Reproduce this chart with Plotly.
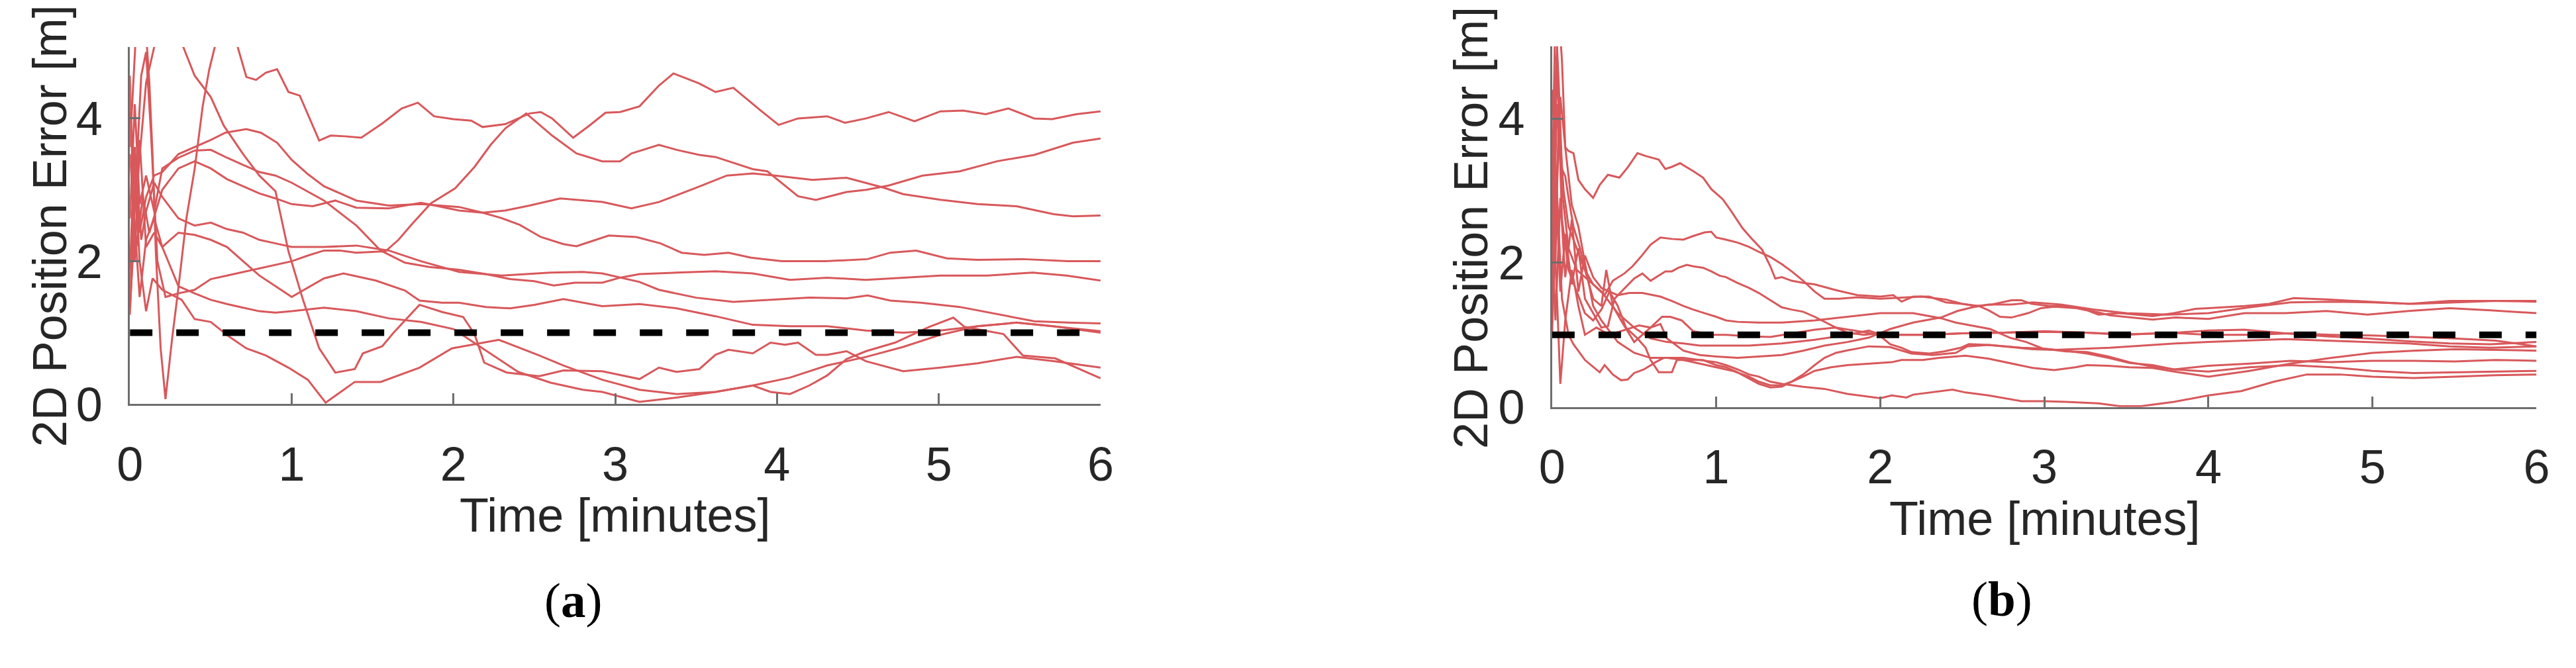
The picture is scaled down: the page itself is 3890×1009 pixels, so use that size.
import plotly.graph_objects as go

# Left chart (a): ten runs, (time [min], 2D error [m])
a1 = [(0, 3.6), (0.04, 5.3), (0.1, 5.2), (0.12, 4.51), (0.14, 3.49), (0.16, 2.14), (0.19, 0.78), (0.22, 0.07),
      (0.26, 0.9), (0.30, 1.63), (0.35, 2.61), (0.40, 3.29), (0.45, 4.17), (0.49, 4.68), (0.53, 5.05), (0.6, 5.4),
      (0.66, 5.05), (0.72, 4.58), (0.78, 4.54), (0.84, 4.64), (0.91, 4.69), (0.98, 4.37), (1.05, 4.32), (1.17, 3.69),
      (1.24, 3.76), (1.33, 3.75), (1.43, 3.73), (1.56, 3.93), (1.68, 4.14), (1.78, 4.22), (1.88, 4.03), (2.0, 3.99),
      (2.11, 3.97), (2.18, 3.88), (2.32, 3.92), (2.47, 4.07), (2.54, 4.09), (2.61, 4.0), (2.74, 3.73), (2.84, 3.90),
      (2.94, 4.08), (3.03, 4.09), (3.15, 4.17), (3.27, 4.46), (3.36, 4.63), (3.52, 4.49), (3.62, 4.37), (3.73, 4.43),
      (3.90, 4.11), (4.01, 3.91), (4.13, 4.0), (4.31, 4.03), (4.42, 3.94), (4.55, 4.0), (4.69, 4.09), (4.85, 3.96),
      (5.01, 4.10), (5.15, 4.11), (5.29, 4.06), (5.43, 4.14), (5.59, 4.0), (5.70, 3.99), (5.85, 4.06), (6.0, 4.10)]
a2 = [(0, 1.25), (0.03, 2.8), (0.07, 4.6), (0.1, 4.93), (0.13, 3.8), (0.17, 2.0), (0.22, 1.5), (0.3, 1.55),
      (0.4, 1.6), (0.5, 1.75), (0.6, 1.8), (0.7, 1.85), (0.8, 1.9), (0.9, 1.95), (1.0, 2.0), (1.1, 2.08), (1.2, 2.15),
      (1.3, 2.15), (1.4, 2.12), (1.5, 2.13), (1.58, 2.14), (1.66, 2.3), (1.74, 2.51), (1.86, 2.81), (2.01, 3.02),
      (2.13, 3.32), (2.23, 3.63), (2.32, 3.86), (2.45, 4.07), (2.61, 3.76), (2.76, 3.51), (2.92, 3.40), (3.03, 3.40),
      (3.10, 3.51), (3.27, 3.63), (3.38, 3.56), (3.52, 3.49), (3.62, 3.46), (3.85, 3.29), (3.94, 3.26), (4.03, 3.09),
      (4.13, 2.91), (4.24, 2.86), (4.43, 2.97), (4.55, 3.0), (4.69, 3.06), (4.90, 3.2), (5.13, 3.26), (5.36, 3.4),
      (5.59, 3.49), (5.83, 3.66), (6.0, 3.72)]
a3 = [(0, 4.1), (0.03, 3.2), (0.06, 2.4), (0.1, 2.9), (0.15, 3.2), (0.2, 3.25), (0.3, 3.5), (0.4, 3.6), (0.5, 3.7),
      (0.59, 3.8), (0.72, 3.85), (0.81, 3.8), (0.91, 3.66), (1.0, 3.42), (1.1, 3.22), (1.2, 3.05), (1.4, 2.85),
      (1.6, 2.78), (1.8, 2.8), (2.035, 2.76), (2.18, 2.68), (2.32, 2.71), (2.47, 2.78), (2.66, 2.88), (2.8, 2.85),
      (2.92, 2.83), (3.10, 2.74), (3.27, 2.83), (3.5, 3.03), (3.69, 3.2), (3.85, 3.23), (3.99, 3.2), (4.22, 3.14),
      (4.43, 3.17), (4.66, 3.03), (4.78, 2.94), (5.01, 2.86), (5.24, 2.8), (5.48, 2.77), (5.71, 2.66), (5.83, 2.63),
      (6.0, 2.64)]
a4 = [(0, 3.5), (0.04, 2.2), (0.08, 2.9), (0.12, 2.4), (0.2, 3.0), (0.3, 3.3), (0.4, 3.4), (0.5, 3.3), (0.6, 3.15),
      (0.7, 3.05), (0.8, 2.95), (0.9, 2.88), (1.0, 2.8), (1.13, 2.77), (1.27, 2.85), (1.4, 2.75), (1.6, 2.74),
      (1.8, 2.82), (2.035, 2.71), (2.18, 2.68), (2.29, 2.61), (2.41, 2.51), (2.54, 2.34), (2.68, 2.24), (2.76, 2.21),
      (2.84, 2.27), (2.96, 2.36), (3.13, 2.34), (3.28, 2.25), (3.41, 2.12), (3.55, 2.09), (3.70, 2.12), (3.84, 2.05),
      (4.03, 2.0), (4.3, 2.0), (4.56, 2.03), (4.70, 2.12), (4.86, 2.15), (5.05, 2.04), (5.24, 2.02), (5.52, 2.03),
      (5.8, 2.0), (6.0, 2.0)]
a5 = [(0, 2.6), (0.03, 4.2), (0.06, 2.8), (0.1, 3.2), (0.15, 2.7), (0.2, 3.3), (0.3, 3.45), (0.4, 3.55), (0.5, 3.56),
      (0.6, 3.45), (0.7, 3.35), (0.8, 3.25), (0.9, 3.2), (1.0, 3.1), (1.2, 2.85), (1.4, 2.5), (1.55, 2.15), (1.7, 1.98),
      (1.85, 1.92), (2.035, 1.88), (2.2, 1.82), (2.35, 1.75), (2.5, 1.72), (2.62, 1.66), (2.75, 1.7), (2.92, 1.7),
      (3.03, 1.77), (3.15, 1.82), (3.38, 1.84), (3.62, 1.86), (3.85, 1.83), (4.08, 1.74), (4.31, 1.77), (4.55, 1.74),
      (4.78, 1.77), (5.01, 1.8), (5.3, 1.8), (5.58, 1.84), (5.79, 1.8), (6.0, 1.73)]
a6 = [(0, 1.9), (0.03, 3.6), (0.07, 2.3), (0.1, 2.7), (0.15, 3.1), (0.2, 2.9), (0.3, 2.6), (0.4, 2.5), (0.5, 2.54),
      (0.6, 2.45), (0.7, 2.4), (0.8, 2.3), (0.9, 2.25), (1.0, 2.2), (1.2, 2.2), (1.4, 2.22), (1.6, 2.15), (1.8, 2.0),
      (2.035, 1.85), (2.3, 1.8), (2.6, 1.84), (2.8, 1.85), (2.92, 1.83), (3.03, 1.77), (3.15, 1.71), (3.27, 1.6),
      (3.5, 1.49), (3.73, 1.43), (3.96, 1.46), (4.2, 1.49), (4.43, 1.48), (4.56, 1.52), (4.7, 1.45), (4.89, 1.42),
      (5.13, 1.36), (5.36, 1.26), (5.59, 1.16), (5.8, 1.14), (6.0, 1.13)]
a7 = [(0, 4.6), (0.03, 2.0), (0.06, 3.7), (0.1, 2.2), (0.15, 2.4), (0.2, 2.2), (0.3, 2.4), (0.4, 2.37), (0.5, 2.3),
      (0.6, 2.2), (0.7, 2.0), (0.8, 1.8), (0.9, 1.65), (1.0, 1.5), (1.2, 1.76), (1.32, 1.83), (1.52, 1.73),
      (1.70, 1.59), (1.79, 1.45), (1.93, 1.42), (2.035, 1.42), (2.2, 1.36), (2.35, 1.34), (2.5, 1.39), (2.68, 1.47),
      (2.92, 1.37), (3.15, 1.4), (3.38, 1.34), (3.62, 1.23), (3.85, 1.11), (4.08, 1.09), (4.31, 1.09), (4.55, 1.03),
      (4.78, 1.0), (5.01, 1.03), (5.24, 1.09), (5.48, 1.14), (5.71, 1.09), (6.0, 1.0)]
a8 = [(0, 1.35), (0.03, 2.5), (0.06, 1.5), (0.1, 2.3), (0.15, 2.6), (0.2, 2.2), (0.3, 1.65), (0.4, 1.55), (0.5, 1.46),
      (0.6, 1.4), (0.7, 1.35), (0.8, 1.3), (0.9, 1.28), (1.0, 1.3), (1.2, 1.35), (1.4, 1.3), (1.6, 1.2), (1.8, 1.15),
      (2.0, 1.05), (2.2, 0.75), (2.4, 0.45), (2.6, 0.3), (2.8, 0.2), (2.92, 0.17), (3.15, 0.03), (3.38, 0.09),
      (3.62, 0.17), (3.85, 0.26), (3.96, 0.17), (4.08, 0.14), (4.2, 0.26), (4.31, 0.4), (4.43, 0.63), (4.55, 0.74),
      (4.73, 0.86), (4.94, 1.08), (5.09, 1.21), (5.16, 1.08), (5.4, 0.98), (5.52, 0.68), (5.72, 0.64), (6.0, 0.36)]
a9 = [(0, 1.6), (0.03, 3.3), (0.06, 2.0), (0.1, 1.3), (0.14, 1.76), (0.2, 1.6), (0.26, 1.53), (0.32, 1.46),
      (0.40, 1.19), (0.50, 1.15), (0.61, 0.95), (0.72, 0.78), (0.84, 0.68), (0.98, 0.51), (1.10, 0.34), (1.21, 0.02),
      (1.39, 0.31), (1.55, 0.31), (1.79, 0.51), (1.99, 0.78), (2.28, 0.9), (2.53, 0.68), (2.68, 0.54), (2.92, 0.34),
      (3.15, 0.2), (3.38, 0.14), (3.62, 0.17), (3.85, 0.26), (4.08, 0.37), (4.31, 0.54), (4.55, 0.66), (4.78, 0.8),
      (5.01, 0.97), (5.24, 1.09), (5.48, 1.14), (5.71, 1.09), (6.0, 1.02)]
a10 = [(0, 2.0), (0.05, 3.2), (0.1, 4.5), (0.2, 5.5), (0.3, 5.3), (0.33, 5.0), (0.4, 4.6), (0.5, 4.3), (0.58, 3.9),
       (0.7, 3.5), (0.8, 3.2), (0.9, 2.98), (0.98, 2.14), (1.07, 1.46), (1.17, 0.78), (1.27, 0.44), (1.39, 0.49),
       (1.44, 0.71), (1.56, 0.81), (1.63, 1.0), (1.79, 1.39), (1.93, 1.29), (2.06, 1.22), (2.13, 0.98), (2.19, 0.58),
       (2.33, 0.44), (2.53, 0.39), (2.68, 0.47), (2.92, 0.46), (3.15, 0.35), (3.27, 0.51), (3.38, 0.45), (3.52, 0.49),
       (3.62, 0.69), (3.70, 0.76), (3.85, 0.71), (3.96, 0.86), (4.05, 0.83), (4.13, 0.86), (4.24, 0.69), (4.31, 0.69),
       (4.43, 0.74), (4.55, 0.60), (4.78, 0.46), (5.01, 0.51), (5.24, 0.57), (5.48, 0.66), (5.71, 0.6), (6.0, 0.51)]

# Right chart (b)
b1 = [(0, 2.0), (0.02, 4.5), (0.04, 5.5), (0.06, 4.8), (0.08, 3.6), (0.1, 3.55), (0.13, 3.52), (0.16, 3.15),
      (0.2, 3.02), (0.25, 2.9), (0.29, 3.08), (0.34, 3.22), (0.41, 3.18), (0.46, 3.32), (0.52, 3.52), (0.57, 3.48),
      (0.65, 3.43), (0.69, 3.3), (0.73, 3.33), (0.78, 3.38), (0.86, 3.27), (0.92, 3.18), (0.97, 3.02), (1.04, 2.88),
      (1.09, 2.72), (1.16, 2.48), (1.21, 2.35), (1.28, 2.18), (1.33, 1.95), (1.36, 1.78), (1.40, 1.8), (1.46, 1.75),
      (1.53, 1.72), (1.6, 1.7), (1.73, 1.62), (1.86, 1.55), (2.0, 1.53), (2.08, 1.55), (2.13, 1.46), (2.2, 1.53),
      (2.3, 1.53), (2.4, 1.45), (2.5, 1.43), (2.58, 1.4), (2.68, 1.42), (2.8, 1.48), (2.86, 1.48), (2.92, 1.43),
      (3.03, 1.40), (3.14, 1.40), (3.26, 1.34), (3.33, 1.28), (3.46, 1.30), (3.56, 1.28), (3.66, 1.26), (3.79, 1.30),
      (3.92, 1.36), (4.0, 1.37), (4.22, 1.40), (4.37, 1.43), (4.52, 1.51), (4.72, 1.49), (4.97, 1.46), (5.22, 1.43),
      (5.47, 1.47), (5.72, 1.47), (6.0, 1.46)]
b2 = [(0, 3.6), (0.02, 2.0), (0.04, 4.0), (0.07, 3.0), (0.1, 2.5), (0.15, 2.2), (0.2, 1.9), (0.25, 1.7), (0.32, 1.55),
      (0.37, 1.75), (0.44, 1.85), (0.49, 1.95), (0.54, 2.08), (0.60, 2.25), (0.66, 2.35), (0.73, 2.33), (0.80, 2.32),
      (0.86, 2.37), (0.93, 2.42), (0.97, 2.43), (1.0, 2.35), (1.06, 2.32), (1.13, 2.28), (1.2, 2.22), (1.26, 2.15),
      (1.33, 2.08), (1.40, 1.98), (1.46, 1.88), (1.53, 1.75), (1.60, 1.6), (1.66, 1.5), (1.75, 1.5), (1.86, 1.52),
      (2.0, 1.5), (2.1, 1.51), (2.25, 1.53), (2.4, 1.49), (2.5, 1.43), (2.6, 1.4), (2.66, 1.34), (2.73, 1.25),
      (2.8, 1.24), (2.9, 1.30), (2.98, 1.37), (3.06, 1.39), (3.2, 1.37), (3.33, 1.31), (3.4, 1.27), (3.53, 1.24),
      (3.66, 1.21), (3.8, 1.24), (3.93, 1.23), (4.0, 1.22), (4.22, 1.3), (4.47, 1.3), (4.72, 1.33), (4.97, 1.28),
      (5.22, 1.33), (5.47, 1.37), (5.72, 1.34), (6.0, 1.3)]
b3 = [(0, 1.3), (0.02, 3.2), (0.05, 1.6), (0.08, 2.4), (0.12, 1.7), (0.16, 2.2), (0.2, 1.5), (0.25, 1.3), (0.3, 1.1),
      (0.34, 1.12), (0.38, 1.5), (0.5, 1.78), (0.55, 1.85), (0.6, 1.75), (0.65, 1.82), (0.69, 1.88), (0.73, 1.88),
      (0.77, 1.93), (0.82, 1.97), (0.86, 1.95), (0.92, 1.93), (0.97, 1.88), (1.02, 1.82), (1.06, 1.8), (1.13, 1.72),
      (1.2, 1.65), (1.26, 1.58), (1.33, 1.48), (1.4, 1.38), (1.46, 1.35), (1.53, 1.32), (1.6, 1.25), (1.66, 1.18),
      (1.73, 1.1), (1.8, 1.03), (1.9, 1.0), (2.0, 1.02), (2.1, 1.0), (2.3, 1.0), (2.5, 1.02), (2.75, 1.03), (3.0, 1.04),
      (3.25, 1.03), (3.5, 1.01), (3.75, 1.02), (4.0, 1.06), (4.22, 1.07), (4.47, 1.02), (4.72, 0.98), (4.97, 0.95),
      (5.22, 0.91), (5.47, 0.88), (5.72, 0.87), (6.0, 0.9)]
b4 = [(0, 2.4), (0.02, 1.2), (0.05, 2.9), (0.08, 1.8), (0.12, 2.6), (0.16, 1.6), (0.2, 2.1), (0.25, 1.8), (0.3, 1.65),
      (0.4, 1.55), (0.47, 1.58), (0.55, 1.58), (0.66, 1.53), (0.73, 1.47), (0.8, 1.4), (0.86, 1.35), (0.93, 1.3),
      (1.0, 1.25), (1.06, 1.2), (1.13, 1.18), (1.26, 1.17), (1.4, 1.17), (1.6, 1.2), (1.8, 1.25), (2.0, 1.3),
      (2.2, 1.3), (2.37, 1.23), (2.46, 1.17), (2.59, 1.11), (2.67, 1.08), (2.79, 0.96), (2.89, 0.9), (2.99, 0.81),
      (3.13, 0.78), (3.26, 0.74), (3.39, 0.68), (3.52, 0.61), (3.66, 0.58), (3.79, 0.52), (4.0, 0.49), (4.25, 0.55),
      (4.5, 0.58), (4.75, 0.55), (5.0, 0.5), (5.25, 0.47), (5.5, 0.48), (5.75, 0.49), (6.0, 0.5)]
b5 = [(0, 3.0), (0.03, 1.5), (0.05, 0.32), (0.08, 1.2), (0.12, 1.9), (0.16, 1.4), (0.2, 1.0), (0.27, 1.1),
      (0.35, 1.0), (0.46, 1.08), (0.53, 1.13), (0.60, 1.1), (0.67, 1.25), (0.72, 1.25), (0.79, 1.2), (0.86, 1.05),
      (0.97, 1.0), (1.06, 1.0), (1.2, 0.98), (1.33, 0.97), (1.46, 1.02), (1.6, 1.07), (1.73, 1.1), (1.86, 1.05),
      (2.0, 1.0), (2.25, 1.0), (2.5, 1.02), (2.75, 1.03), (3.0, 1.05), (3.25, 1.03), (3.5, 1.0), (3.75, 1.03),
      (4.0, 1.0), (4.25, 1.0), (4.5, 1.02), (4.75, 1.0), (5.0, 0.99), (5.25, 0.97), (5.5, 0.95), (5.75, 0.92),
      (6.0, 0.84)]
b6 = [(0, 4.4), (0.03, 3.0), (0.06, 1.5), (0.1, 1.0), (0.13, 0.87), (0.2, 0.65), (0.29, 0.48), (0.32, 0.58),
      (0.37, 0.45), (0.42, 0.37), (0.46, 0.38), (0.5, 0.47), (0.56, 0.52), (0.63, 0.62), (0.68, 0.68), (0.8, 0.68),
      (0.9, 0.65), (1.0, 0.62), (1.06, 0.58), (1.13, 0.52), (1.2, 0.45), (1.26, 0.42), (1.33, 0.35), (1.4, 0.32),
      (1.53, 0.28), (1.66, 0.25), (1.8, 0.18), (2.0, 0.12), (2.07, 0.16), (2.16, 0.13), (2.2, 0.17), (2.33, 0.21),
      (2.44, 0.24), (2.52, 0.2), (2.66, 0.16), (2.86, 0.08), (3.0, 0.08), (3.13, 0.07), (3.33, 0.05), (3.46, 0.01),
      (3.59, 0.01), (3.79, 0.07), (4.0, 0.16), (4.2, 0.22), (4.4, 0.35), (4.6, 0.45), (4.8, 0.45), (5.0, 0.42),
      (5.25, 0.4), (5.5, 0.42), (5.75, 0.44), (6.0, 0.45)]
b7 = [(0, 2.0), (0.03, 4.8), (0.06, 2.6), (0.1, 1.9), (0.15, 1.6), (0.2, 1.3), (0.25, 1.2), (0.3, 1.35), (0.35, 1.6),
      (0.4, 1.4), (0.45, 1.1), (0.52, 0.95), (0.57, 0.82), (0.60, 0.65), (0.65, 0.48), (0.73, 0.48), (0.76, 0.65),
      (0.84, 0.65), (0.92, 0.65), (1.0, 0.58), (1.06, 0.55), (1.13, 0.48), (1.21, 0.38), (1.26, 0.32), (1.33, 0.27),
      (1.40, 0.28), (1.46, 0.35), (1.53, 0.45), (1.6, 0.58), (1.66, 0.68), (1.73, 0.75), (1.79, 0.78), (1.93, 0.84),
      (2.06, 0.83), (2.19, 0.74), (2.32, 0.72), (2.46, 0.75), (2.53, 0.84), (2.66, 0.86), (2.86, 0.82), (2.99, 0.81),
      (3.13, 0.77), (3.26, 0.76), (3.39, 0.70), (3.52, 0.62), (3.66, 0.56), (3.79, 0.52), (4.0, 0.57), (4.25, 0.6),
      (4.5, 0.64), (4.75, 0.62), (5.0, 0.64), (5.25, 0.64), (5.5, 0.63), (5.75, 0.65), (6.0, 0.64)]
b8 = [(0, 1.0), (0.02, 2.5), (0.05, 4.3), (0.08, 3.6), (0.12, 2.8), (0.16, 2.5), (0.2, 2.0), (0.25, 1.4), (0.3, 1.2),
      (0.4, 0.9), (0.5, 0.75), (0.6, 0.68), (0.7, 0.68), (0.8, 0.65), (0.9, 0.6), (1.0, 0.55), (1.1, 0.5), (1.2, 0.42),
      (1.26, 0.35), (1.33, 0.3), (1.4, 0.3), (1.46, 0.35), (1.53, 0.42), (1.6, 0.5), (1.7, 0.55), (1.8, 0.58),
      (2.0, 0.61), (2.07, 0.62), (2.13, 0.65), (2.26, 0.65), (2.36, 0.68), (2.52, 0.71), (2.66, 0.67), (2.79, 0.61),
      (2.93, 0.54), (3.06, 0.51), (3.19, 0.55), (3.26, 0.58), (3.39, 0.57), (3.52, 0.55), (3.66, 0.54), (3.79, 0.49),
      (3.92, 0.45), (4.0, 0.42), (4.25, 0.5), (4.5, 0.6), (4.75, 0.68), (5.0, 0.75), (5.25, 0.78), (5.5, 0.8),
      (5.75, 0.79), (6.0, 0.78)]
b9 = [(0, 1.8), (0.03, 4.2), (0.06, 3.0), (0.1, 2.2), (0.15, 1.9), (0.2, 1.8), (0.3, 1.6), (0.4, 1.3), (0.5, 1.1),
      (0.6, 0.95), (0.7, 0.9), (0.8, 0.88), (0.9, 0.85), (1.0, 0.85), (1.2, 0.85), (1.4, 0.88), (1.6, 0.93),
      (1.8, 1.0), (1.93, 1.06), (1.98, 1.02), (2.03, 0.93), (2.06, 0.87), (2.13, 0.82), (2.19, 0.76), (2.30, 0.74),
      (2.39, 0.77), (2.49, 0.82), (2.54, 0.87), (2.66, 0.86), (2.79, 0.83), (2.93, 0.80), (3.06, 0.79), (3.2, 0.8),
      (3.4, 0.82), (3.6, 0.85), (3.8, 0.88), (4.0, 0.9), (4.22, 0.92), (4.47, 0.94), (4.72, 0.92), (4.97, 0.9),
      (5.22, 0.88), (5.47, 0.84), (5.72, 0.82), (6.0, 0.84)]
b10 = [(0, 3.0), (0.02, 5.5), (0.04, 4.5), (0.06, 3.3), (0.08, 3.2), (0.1, 2.9), (0.13, 2.5), (0.17, 2.2), (0.2, 1.9),
       (0.25, 1.5), (0.3, 1.4), (0.33, 1.9), (0.37, 1.4), (0.42, 1.2), (0.5, 0.9), (0.55, 1.0), (0.6, 1.1), (0.66, 1.15),
       (0.7, 0.95), (0.8, 0.78), (0.9, 0.72), (1.0, 0.7), (1.13, 0.68), (1.26, 0.7), (1.4, 0.72), (1.53, 0.78),
       (1.66, 0.85), (1.8, 0.9), (1.93, 0.96), (2.06, 1.08), (2.2, 1.17), (2.37, 1.24), (2.47, 1.33), (2.56, 1.38),
       (2.66, 1.42), (2.8, 1.42), (2.93, 1.45), (3.1, 1.42), (3.3, 1.35), (3.5, 1.3), (3.75, 1.28), (4.0, 1.3),
       (4.25, 1.38), (4.5, 1.45), (4.75, 1.46), (5.0, 1.45), (5.25, 1.43), (5.5, 1.45), (5.75, 1.47), (6.0, 1.47)]

# 1 m target line
target_t = [0, 6]
target_e = [1, 1]

x_ticks = [0, 1, 2, 3, 4, 5, 6]
y_ticks = [0, 2, 4]

W, H = 3890, 1009
RED = "#d8585b"
AXIS_GREY = "#6e6e6e"
TEXT = "#262626"


def px(p):
    return p / W


def py(p):
    return 1 - p / H


fig = go.Figure()

panels = [
    ("x", "y", [a1, a2, a3, a4, a5, a6, a7, a8, a9, a10]),
    ("x2", "y2", [b1, b2, b3, b4, b5, b6, b7, b8, b9, b10]),
]
for xa, ya, runs in panels:
    for run in runs:
        t, e = zip(*run)
        fig.add_trace(go.Scatter(x=t, y=e, mode="lines", xaxis=xa, yaxis=ya,
                                 line=dict(color=RED, width=3), hoverinfo="skip"))
    fig.add_trace(go.Scatter(x=target_t, y=target_e, mode="lines", xaxis=xa, yaxis=ya,
                             line=dict(color="black", width=10, dash="34px,36px")))

axis_style = dict(showgrid=False, zeroline=False, showline=True, linecolor=AXIS_GREY, linewidth=3,
                  ticks="inside", ticklen=16, tickwidth=3, tickcolor=AXIS_GREY,
                  tickfont=dict(family="Liberation Sans, Arial, sans-serif", size=72, color=TEXT))

fig.update_layout(
    width=W, height=H, autosize=False, showlegend=False,
    paper_bgcolor="white", plot_bgcolor="white",
    margin=dict(l=0, r=0, t=0, b=0),
    xaxis=dict(domain=[px(178), px(1659)], range=[0, 6], tickvals=x_ticks, anchor="y",
               ticklabelstandoff=26, **axis_style),
    yaxis=dict(domain=[py(635.5), py(74)], range=[0, 5], tickvals=y_ticks, anchor="x",
               ticklabelstandoff=24, **axis_style),
    xaxis2=dict(domain=[px(2348), px(3850)], range=[0, 6], tickvals=x_ticks, anchor="y2",
                ticklabelstandoff=26, **axis_style),
    yaxis2=dict(domain=[py(640), py(73)], range=[0, 5], tickvals=y_ticks, anchor="x2",
                ticklabelstandoff=24, **axis_style),
)

title_font = dict(family="Liberation Sans, Arial, sans-serif", size=72, color=TEXT)
label_font = dict(family="Liberation Serif, Times New Roman, serif", size=75, color="black")
notes = [
    dict(x=px(918), y=py(810), text="Time [minutes]", font=title_font),
    dict(x=px(3099), y=py(815), text="Time [minutes]", font=title_font),
    dict(x=px(56), y=py(355), text="2D Position Error [m]", font=title_font, textangle=-90),
    dict(x=px(2224), y=py(358), text="2D Position Error [m]", font=title_font, textangle=-90),
    dict(x=px(854), y=py(944), text="(<b>a</b>)", font=label_font),
    dict(x=px(3034), y=py(942), text="(<b>b</b>)", font=label_font),
]
for n in notes:
    fig.add_annotation(xref="paper", yref="paper", xanchor="center", yanchor="middle",
                       showarrow=False, **n)

fig.write_html("out.html", config={"displayModeBar": False},
               post_script="document.body.style.margin='0px';")
